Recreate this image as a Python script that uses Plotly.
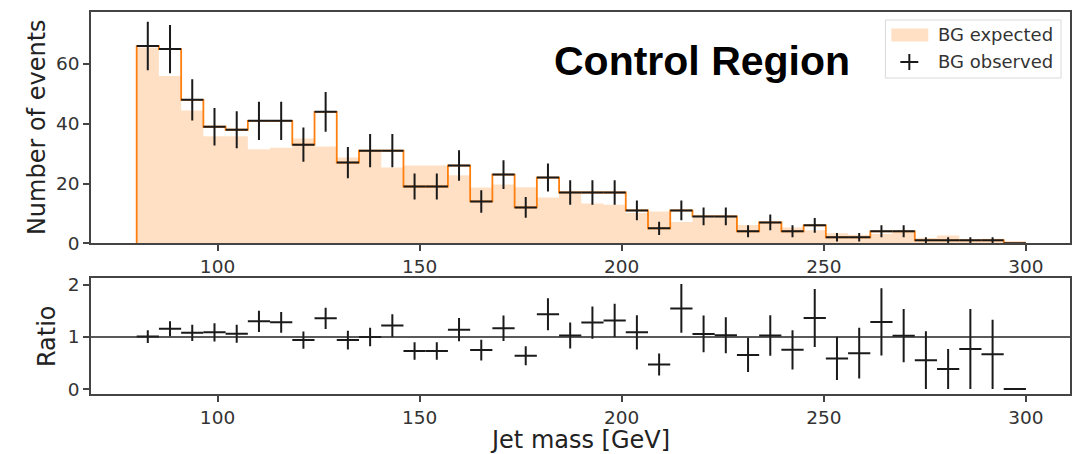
import numpy as np
import plotly.graph_objects as go

# ---------------- data ----------------
BIN_LO, BIN_HI, N_BINS = 80.0, 300.0, 40

bg_observed = [66, 65, 48, 39, 38, 41, 41, 33, 44, 27,
               31, 31, 19, 19, 26, 14, 23, 12, 22, 17,
               17, 17, 11, 5, 11, 9, 9, 4, 7, 4,
               6, 2, 2, 4, 4, 1, 1, 1, 1, 0]

bg_expected = [65.5, 56.0, 44.4, 35.8, 35.8, 31.5, 32.0, 35.1, 32.4, 28.7,
               31.0, 25.4, 26.0, 26.0, 22.8, 18.7, 19.7, 18.75, 15.3, 16.5,
               13.3, 12.9, 10.1, 10.6, 7.1, 8.5, 8.7, 6.1, 6.8, 5.3,
               4.4, 3.4, 2.9, 3.1, 3.9, 1.8, 2.6, 1.3, 1.5, 0.8]

x_tick_vals = [100, 150, 200, 250, 300]
y_tick_vals_top = [0, 20, 40, 60]
y_tick_vals_ratio = [0, 1, 2]

title_text = "Control Region"
legend_labels = ["BG expected", "BG observed"]

# ---------------- derived quantities ----------------
edges = np.linspace(BIN_LO, BIN_HI, N_BINS + 1)
centers = 0.5 * (edges[:-1] + edges[1:])
half_w = 0.5 * (edges[1:] - edges[:-1])
obs = np.array(bg_observed, dtype=float)
exp_ = np.array(bg_expected, dtype=float)
obs_err = np.sqrt(obs)
ratio = obs / exp_
ratio_err = obs_err / exp_

# ---------------- geometry ----------------
FIG_W, FIG_H = 1079, 454
L, R, T, B = 91, 1072, 12, 394
PW, PH = R - L, B - T


def px_x(x):
    return (x - L) / PW


def px_y(y):
    return (B - y) / PH


TOP_DOMAIN = [px_y(243.3), 1.0]
BOT_DOMAIN = [0.0, px_y(278.3)]
XRANGE = [68.7, 310.9]

ORANGE = "#ff7f0e"
FILL = "rgba(255,127,14,0.24)"
INK = "#1a1a1a"
AXC = "#444444"
TXT = "#333333"
FONT = "DejaVu Sans"
TICK_SIZE = 18.5
LABEL_SIZE = 24

fig = go.Figure()

# expected (filled step histogram)
fig.add_trace(go.Scatter(
    x=edges, y=np.append(exp_, exp_[-1]),
    mode="lines", line=dict(shape="hv", width=0, color=FILL),
    fill="tozeroy", fillcolor=FILL, xaxis="x", yaxis="y",
    showlegend=False, hoverinfo="skip"))

# observed step outline (orange)
fig.add_trace(go.Scatter(
    x=np.concatenate([[edges[0]], edges]),
    y=np.concatenate([[0.0], obs, [0.0]]),
    mode="lines", line=dict(shape="hv", width=1.8, color=ORANGE),
    xaxis="x", yaxis="y", showlegend=False, hoverinfo="skip"))

# observed crosses
fig.add_trace(go.Scatter(
    x=centers, y=obs, mode="markers",
    marker=dict(size=1, color="rgba(0,0,0,0)"),
    error_x=dict(type="data", array=half_w, width=0, thickness=2, color=INK),
    error_y=dict(type="data", array=obs_err, width=0, thickness=2, color=INK),
    xaxis="x", yaxis="y", showlegend=False))

# ratio crosses
fig.add_trace(go.Scatter(
    x=centers, y=ratio, mode="markers",
    marker=dict(size=1, color="rgba(0,0,0,0)"),
    error_x=dict(type="data", array=half_w, width=0, thickness=2, color=INK),
    error_y=dict(type="data", array=ratio_err, width=0, thickness=2, color=INK),
    xaxis="x2", yaxis="y2", showlegend=False))

axis_common = dict(
    showgrid=False, zeroline=False, showline=True, mirror=True,
    linecolor=AXC, linewidth=1.5, ticks="outside", ticklen=6,
    tickwidth=1.5, tickcolor=AXC,
    tickfont=dict(family=FONT, size=TICK_SIZE, color=TXT),
)

fig.update_layout(
    width=FIG_W, height=FIG_H,
    margin=dict(l=L, r=FIG_W - R, t=T, b=FIG_H - B),
    paper_bgcolor="white", plot_bgcolor="white",
    showlegend=False,
    xaxis=dict(domain=[0, 1], range=XRANGE, tickvals=x_tick_vals,
               anchor="y", **axis_common),
    yaxis=dict(domain=TOP_DOMAIN, range=[0, 77.4], tickvals=y_tick_vals_top,
               anchor="x", **axis_common),
    xaxis2=dict(domain=[0, 1], range=XRANGE, tickvals=x_tick_vals,
                anchor="y2", matches="x", **axis_common),
    yaxis2=dict(domain=BOT_DOMAIN, range=[-0.095, 2.128],
                tickvals=y_tick_vals_ratio, anchor="x2", **axis_common),
)

# ratio = 1 reference line
fig.add_shape(type="line", xref="x2 domain", yref="y2", x0=0, x1=1, y0=1, y1=1,
              line=dict(color="#222222", width=1.5))

# axis titles
fig.add_annotation(text="Number of events", xref="paper", yref="paper",
                   x=px_x(37), y=px_y(127), xanchor="center", yanchor="middle",
                   textangle=-90, showarrow=False,
                   font=dict(family=FONT, size=LABEL_SIZE, color="#222222"))
fig.add_annotation(text="Ratio", xref="paper", yref="paper",
                   x=px_x(47), y=px_y(336), xanchor="center", yanchor="middle",
                   textangle=-90, showarrow=False,
                   font=dict(family=FONT, size=LABEL_SIZE, color="#222222"))
fig.add_annotation(text="Jet mass [GeV]", xref="paper", yref="paper",
                   x=px_x(581), y=px_y(440), xanchor="center", yanchor="middle",
                   showarrow=False,
                   font=dict(family=FONT, size=LABEL_SIZE, color="#222222"))

# big title
fig.add_annotation(text="<b>%s</b>" % title_text, xref="paper", yref="paper",
                   x=px_x(553), y=px_y(61), xanchor="left", yanchor="middle",
                   showarrow=False,
                   font=dict(family="Liberation Sans", size=41, color="black"))

# manual legend
fig.add_shape(type="rect", xref="paper", yref="paper",
              x0=px_x(887), x1=px_x(1063), y0=px_y(78), y1=px_y(20),
              line=dict(color="#d9d9d9", width=1), fillcolor="rgba(255,255,255,0.8)")
fig.add_shape(type="rect", xref="paper", yref="paper",
              x0=px_x(893), x1=px_x(930), y0=px_y(41.5), y1=px_y(28.5),
              line=dict(width=0), fillcolor=FILL)
fig.add_shape(type="line", xref="paper", yref="paper",
              x0=px_x(902), x1=px_x(920), y0=px_y(62), y1=px_y(62),
              line=dict(color=INK, width=2))
fig.add_shape(type="line", xref="paper", yref="paper",
              x0=px_x(911), x1=px_x(911), y0=px_y(54), y1=px_y(70),
              line=dict(color=INK, width=2))
for label, ypx in zip(legend_labels, [35, 62]):
    fig.add_annotation(text=label, xref="paper", yref="paper",
                       x=px_x(938), y=px_y(ypx), xanchor="left", yanchor="middle",
                       showarrow=False,
                       font=dict(family=FONT, size=18, color=TXT))

fig.write_html("out.html")
